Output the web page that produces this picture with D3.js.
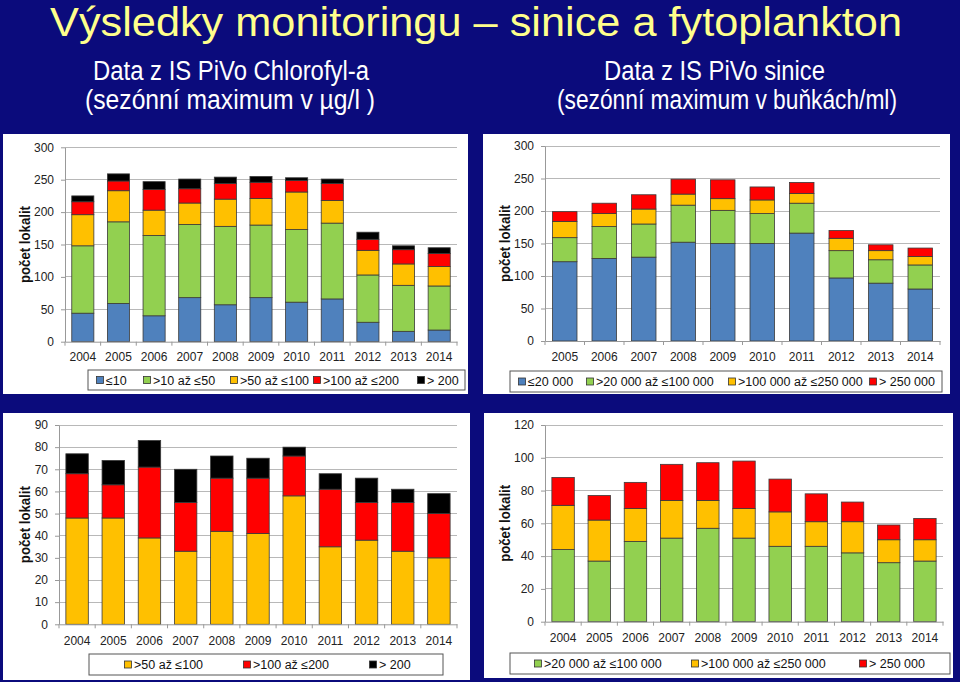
<!DOCTYPE html>
<html>
<head>
<meta charset="utf-8">
<script src="https://cdn.jsdelivr.net/npm/d3@7"></script>
<style>
  html, body { margin: 0; padding: 0; background: #0b0b7c; }
  svg { display: block; }
</style>
</head>
<body>
<svg id="chart" width="960" height="682"></svg>
<script>
// ---------------- DATA ----------------
const years2004 = ["2004","2005","2006","2007","2008","2009","2010","2011","2012","2013","2014"];
const years2005 = ["2005","2006","2007","2008","2009","2010","2011","2012","2013","2014"];

// Chlorofyl-a (top-left), counts of sites
const chlLe10     = [44, 59, 40, 68, 57, 68, 61, 66, 30, 16, 18];
const chl10to50   = [104, 126, 124, 113, 121, 112, 112, 117, 73, 71, 68];
const chl50to100  = [48, 48, 39, 33, 42, 41, 58, 35, 38, 33, 30];
const chl100to200 = [20, 15, 32, 22, 24, 25, 18, 26, 17, 22, 20];
const chlOver200  = [9, 11, 12, 15, 10, 9, 4, 7, 11, 6, 9];

// Sinice (top-right), counts of sites, 2005-2014
const sinLe20k       = [122, 127, 129, 152, 150, 150, 166, 97, 89, 80];
const sin20kto100k   = [37, 49, 51, 57, 51, 46, 46, 42, 36, 37];
const sin100kto250k  = [25, 20, 23, 17, 18, 21, 15, 19, 14, 13];
const sinOver250k    = [15, 16, 22, 23, 29, 20, 17, 12, 9, 13];

// Sinice (bottom-right), 2004-2014
const sin20kto100kB  = [44, 37, 49, 51, 57, 51, 46, 46, 42, 36, 37];
const sin100kto250kB = [27, 25, 20, 23, 17, 18, 21, 15, 19, 14, 13];
const sinOver250kB   = [17, 15, 16, 22, 23, 29, 20, 17, 12, 9, 13];

// Tick labels
const ticksTop = [0, 50, 100, 150, 200, 250, 300];
const ticksBL  = [0, 10, 20, 30, 40, 50, 60, 70, 80, 90];
const ticksBR  = [0, 20, 40, 60, 80, 100, 120];

// Legend labels
const legChlTL = ["≤10", ">10 až ≤50", ">50 až ≤100", ">100 až ≤200", "> 200"];
const legSinTR = ["≤20 000", ">20 000 až ≤100 000", ">100 000 až ≤250 000", "> 250 000"];
const legChlBL = [">50 až ≤100", ">100 až ≤200", "> 200"];
const legSinBR = [">20 000 až ≤100 000", ">100 000 až ≤250 000", "> 250 000"];

const titleText = "Výsledky monitoringu – sinice a fytoplankton";
const subLeft  = ["Data z IS PiVo Chlorofyl-a", "(sezónní maximum v µg/l )"];
const subRight = ["Data z IS PiVo sinice", "(sezónní maximum v buňkách/ml)"];
const yTitle = "počet lokalit";

// ---------------- STYLE ----------------
const C = { blue: "#4f81bd", green: "#92d050", orange: "#ffc000", red: "#ff0000", black: "#000000" };

const svg = d3.select("#chart");
svg.append("rect").attr("width", 960).attr("height", 682).attr("fill", "#0b0b7c");

// Title
svg.append("text").attr("x", 50).attr("y", 36)
  .attr("font-family", "Liberation Sans, Arial, sans-serif")
  .attr("font-size", 41).attr("fill", "#ffff8c")
  .attr("textLength", 852).attr("lengthAdjust", "spacingAndGlyphs")
  .text(titleText);

function subtitle(lines, x0, widths) {
  lines.forEach((t, i) => {
    svg.append("text").attr("x", x0[i]).attr("y", i === 0 ? 80 : 109)
      .attr("font-family", "Liberation Sans, Arial, sans-serif")
      .attr("font-size", 27).attr("fill", "#ffffff")
      .attr("textLength", widths[i]).attr("lengthAdjust", "spacingAndGlyphs")
      .text(t);
  });
}
subtitle(subLeft, [93, 85], [276, 290]);
subtitle(subRight, [604, 557], [221, 340]);

// ---------------- PANEL ----------------
function panel(cfg) {
  const g = svg.append("g");
  g.append("rect").attr("x", cfg.box[0]).attr("y", cfg.box[1])
    .attr("width", cfg.box[2] - cfg.box[0]).attr("height", cfg.box[3] - cfg.box[1])
    .attr("fill", "#ffffff");

  const [L, T, R, B] = cfg.plot;
  const x = d3.scaleBand().domain(cfg.cats).range([L, R]).paddingInner(0.38).paddingOuter(0.19);
  const y = d3.scaleLinear().domain([0, cfg.max]).range([B, T]);

  // gridlines
  g.append("g").selectAll("line").data(cfg.ticks.filter(d => d > 0)).join("line")
    .attr("x1", L).attr("x2", R).attr("y1", d => y(d)).attr("y2", d => y(d))
    .attr("stroke", "#b8b8b8").attr("stroke-width", 1).attr("shape-rendering", "crispEdges");

  // y axis
  const ya = g.append("g").attr("transform", `translate(${L},0)`)
    .call(d3.axisLeft(y).tickValues(cfg.ticks).tickSize(4).tickPadding(7).tickSizeOuter(0));
  ya.select(".domain").attr("stroke", "#999");
  ya.selectAll(".tick line").attr("stroke", "#999");
  ya.selectAll("text").attr("font-family", "Liberation Sans, Arial, sans-serif")
    .attr("font-size", 12).attr("fill", "#222");

  // stacked bars
  const rows = cfg.cats.map((c, i) => {
    const o = { cat: c };
    cfg.series.forEach((s, k) => o["s" + k] = s[i]);
    return o;
  });
  const stack = d3.stack().keys(cfg.series.map((s, k) => "s" + k))(rows);
  stack.forEach((layer, k) => {
    g.append("g").selectAll("rect").data(layer).join("rect")
      .attr("x", d => x(d.data.cat)).attr("width", x.bandwidth())
      .attr("y", d => y(d[1])).attr("height", d => y(d[0]) - y(d[1]))
      .attr("fill", cfg.colors[k]).attr("stroke", "#3a3a3a").attr("stroke-width", 0.8);
  });

  // x axis
  const xa = g.append("g").attr("transform", `translate(0,${B})`)
    .call(d3.axisBottom(x).tickSize(0).tickPadding(cfg.xPad).tickSizeOuter(0));
  xa.select(".domain").attr("stroke", "#999");
  xa.selectAll("text").attr("font-family", "Liberation Sans, Arial, sans-serif")
    .attr("font-size", 12).attr("fill", "#222");
  g.append("g").selectAll("line").data(d3.range(cfg.cats.length + 1)).join("line")
    .attr("x1", i => L + i * x.step()).attr("x2", i => L + i * x.step())
    .attr("y1", B).attr("y2", B + 4).attr("stroke", "#999");

  // y title
  g.append("text").attr("transform", `translate(${cfg.yTitleX},${(T + B) / 2}) rotate(-90)`)
    .attr("text-anchor", "middle").attr("dy", "0.35em")
    .attr("font-family", "Liberation Sans, Arial, sans-serif").attr("font-weight", "bold")
    .attr("font-size", 14).attr("fill", "#111")
    .attr("textLength", 77).attr("lengthAdjust", "spacingAndGlyphs").text(yTitle);

  // legend
  const [lx0, ly0, lx1, ly1] = cfg.legBox;
  g.append("rect").attr("x", lx0).attr("y", ly0).attr("width", lx1 - lx0).attr("height", ly1 - ly0)
    .attr("fill", "#fff").attr("stroke", "#555").attr("stroke-width", 1);
  const lcy = (ly0 + ly1) / 2;
  cfg.legLabels.forEach((t, k) => {
    const mx = cfg.legX[k];
    g.append("rect").attr("x", mx - 3.5).attr("y", lcy - 3.5).attr("width", 7).attr("height", 7)
      .attr("fill", cfg.legColors[k]).attr("stroke", "#333").attr("stroke-width", 0.8);
    g.append("text").attr("x", mx + 6).attr("y", lcy).attr("dy", "0.36em")
      .attr("font-family", "Liberation Sans, Arial, sans-serif").attr("font-size", 12.5)
      .attr("fill", "#111").text(t);
  });
}

panel({
  box: [3, 134, 468, 394], plot: [65, 147.3, 457, 341.7], max: 300, ticks: ticksTop,
  cats: years2004, series: [chlLe10, chl10to50, chl50to100, chl100to200, chlOver200],
  colors: [C.blue, C.green, C.orange, C.red, C.black], xPad: 11, yTitleX: 25,
  legBox: [88, 370, 465, 390], legLabels: legChlTL,
  legColors: [C.blue, C.green, C.orange, C.red, C.black], legX: [100, 147, 234, 317, 421]
});

panel({
  box: [483, 134, 950, 394], plot: [545, 146, 940, 341], max: 300, ticks: ticksTop,
  cats: years2005, series: [sinLe20k, sin20kto100k, sin100kto250k, sinOver250k],
  colors: [C.blue, C.green, C.orange, C.red], xPad: 11, yTitleX: 505,
  legBox: [510, 371, 942, 392], legLabels: legSinTR,
  legColors: [C.blue, C.green, C.orange, C.red], legX: [522, 590, 732, 873]
});

panel({
  box: [3, 413, 470, 680], plot: [59, 425, 457, 624.3], max: 90, ticks: ticksBL,
  cats: years2004, series: [chl50to100, chl100to200, chlOver200],
  colors: [C.orange, C.red, C.black], xPad: 12, yTitleX: 25,
  legBox: [89, 654, 443, 675], legLabels: legChlBL,
  legColors: [C.orange, C.red, C.black], legX: [128, 247, 373]
});

panel({
  box: [484, 413, 953, 678], plot: [545, 425, 943, 621.7], max: 120, ticks: ticksBR,
  cats: years2004, series: [sin20kto100kB, sin100kto250kB, sinOver250kB],
  colors: [C.green, C.orange, C.red], xPad: 12, yTitleX: 505,
  legBox: [510, 653, 950, 674], legLabels: legSinBR,
  legColors: [C.green, C.orange, C.red], legX: [538, 695, 863]
});
</script>
</body>
</html>
